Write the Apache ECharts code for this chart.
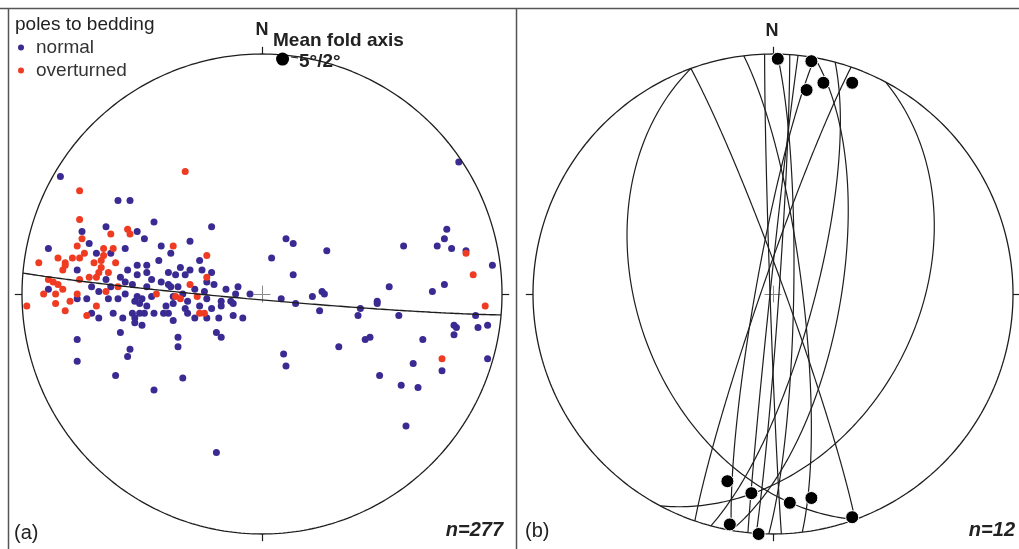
<!DOCTYPE html>
<html>
<head>
<meta charset="utf-8">
<title>Stereonets</title>
<script src="https://cdn.jsdelivr.net/npm/echarts@6/dist/echarts.min.js"></script>
<style>
  html, body { margin: 0; padding: 0; background: #fff; }
  #main { width: 1019px; height: 549px; }
</style>
</head>
<body>
<div id="main"></div>
<script>
// poles to bedding, equal-area lower hemisphere, primitive radius = 1 (east, north)
const normalPoles = [
  [-0.84,0.49],[-0.60,0.39],[-0.55,0.39],[-0.45,0.30],[-0.21,0.28],[-0.65,0.28],[-0.75,0.26],[-0.52,0.26],[-0.49,0.23],[-0.30,0.22],
  [-0.72,0.21],[-0.89,0.19],[-0.57,0.19],[-0.42,0.20],[-0.38,0.17],[-0.69,0.17],[-0.63,0.17],[-0.43,0.14],[-0.26,0.14],[-0.34,0.11],
  [-0.30,0.10],[-0.52,0.12],[-0.48,0.12],[-0.56,0.10],[-0.52,0.08],[-0.48,0.09],[-0.39,0.09],[-0.36,0.08],[-0.25,0.10],[-0.21,0.09],
  [-0.77,0.10],[-0.46,0.06],[-0.42,0.05],[-0.32,0.08],[-0.23,0.05],[-0.20,0.04],[-0.59,0.07],[-0.65,0.06],[-0.57,0.05],[-0.54,0.04],
  [-0.48,0.03],[-0.39,0.04],[-0.38,0.03],[-0.35,0.03],[-0.28,0.02],[-0.24,0.01],[-0.15,0.02],[-0.10,0.03],[-0.05,0.00],[-0.11,0.00],
  [-0.89,0.02],[-0.71,0.03],[-0.68,0.01],[-0.63,0.03],[-0.57,0.00],[-0.52,-0.01],[-0.50,-0.02],[-0.46,-0.01],[-0.37,-0.01],[-0.33,0.00],
  [-0.23,-0.02],[-0.17,-0.03],[-0.13,-0.03],[-0.12,-0.04],[-0.77,-0.02],[-0.73,-0.02],[-0.64,-0.02],[-0.60,-0.02],[-0.53,-0.03],[-0.51,-0.04],
  [-0.48,-0.05],[-0.40,-0.05],[-0.37,-0.04],[-0.31,-0.03],[-0.26,-0.05],[-0.21,-0.06],[-0.17,-0.05],[-0.71,-0.08],[-0.68,-0.10],[-0.62,-0.08],
  [-0.58,-0.10],[-0.54,-0.08],[-0.53,-0.10],[-0.51,-0.08],[-0.49,-0.08],[-0.45,-0.08],[-0.41,-0.08],[-0.39,-0.08],[-0.37,-0.11],[-0.32,-0.06],
  [-0.31,-0.08],[-0.28,-0.10],[-0.23,-0.10],[-0.18,-0.10],[-0.12,-0.09],[-0.08,-0.10],[-0.53,-0.12],[-0.50,-0.13],[-0.59,-0.16],[-0.35,-0.18],
  [-0.19,-0.16],[-0.17,-0.18],[-0.77,-0.19],[-0.77,-0.28],[-0.55,-0.23],[-0.56,-0.26],[-0.35,-0.22],[-0.61,-0.34],[-0.33,-0.35],[-0.45,-0.40],
  [0.60,-0.55],[-0.19,-0.66],
  [0.82,0.55],[0.77,0.27],[0.76,0.23],[0.10,0.23],[0.13,0.21],[0.27,0.18],[0.59,0.20],[0.73,0.20],[0.79,0.19],[0.85,0.18],
  [0.04,0.15],[0.96,0.12],[0.13,0.08],[0.53,0.03],[0.76,0.04],[0.71,0.01],[0.08,-0.02],[0.21,-0.01],[0.25,0.01],[0.26,0.00],
  [0.14,-0.04],[0.24,-0.07],[0.48,-0.03],[0.48,-0.04],[0.41,-0.06],[0.40,-0.09],[0.57,-0.09],[0.89,-0.09],[0.80,-0.13],[0.81,-0.14],
  [0.80,-0.17],[0.90,-0.14],[0.94,-0.13],[0.67,-0.19],[0.45,-0.18],[0.43,-0.19],[0.32,-0.22],[0.09,-0.25],[0.10,-0.30],[0.63,-0.29],
  [0.75,-0.32],[0.94,-0.27],[0.49,-0.34],[0.58,-0.38],[0.65,-0.39]
]
const overturnedPoles = [
  [-0.32,0.51],[-0.76,0.43],[-0.76,0.31],[-0.75,0.23],[-0.63,0.25],[-0.56,0.27],[-0.55,0.25],[-0.77,0.20],[-0.85,0.15],[-0.82,0.13],
  [-0.79,0.15],[-0.76,0.15],[-0.74,0.17],[-0.66,0.19],[-0.62,0.19],[-0.66,0.16],[-0.67,0.14],[-0.61,0.13],[-0.93,0.13],[-0.83,0.10],
  [-0.82,0.12],[-0.70,0.13],[-0.67,0.11],[-0.64,0.09],[-0.68,0.09],[-0.72,0.07],[-0.69,0.07],[-0.37,0.20],[-0.23,0.16],[-0.23,0.07],
  [-0.89,0.06],[-0.87,0.05],[-0.85,0.04],[-0.76,0.06],[-0.83,0.02],[-0.91,0.00],[-0.86,0.00],[-0.77,0.00],[-0.65,0.01],[-0.60,0.03],
  [-0.44,0.00],[-0.30,0.04],[-0.98,-0.05],[-0.86,-0.04],[-0.80,-0.03],[-0.69,-0.05],[-0.82,-0.07],[-0.73,-0.09],[-0.36,-0.01],[-0.27,-0.01],
  [-0.26,-0.08],[-0.24,-0.08],[-0.34,-0.02],
  [0.85,0.17],[0.88,0.08],[0.93,-0.05],[0.75,-0.27]
]
// mean fold axis, trend / plunge in degrees
const meanFoldAxis = [5, 2]

// (b) planes: dip direction / dip in degrees
const planeDipDir = [250, 70, 118, 83, 91, 94, 280, 100, 105, 289, 268, 276]
const planeDip = [43, 86, 40, 80, 83, 88, 84, 67, 76, 86, 89, 89]
// (b) fold hinges, projected (east, north)
const hinges = [
  [0.02,0.98],[0.16,0.97],[0.14,0.85],[0.21,0.88],[0.33,0.88],
  [-0.19,-0.78],[-0.09,-0.83],[0.07,-0.87],[0.16,-0.85],[0.33,-0.93],[-0.18,-0.96],[-0.06,-1.00]
]

const D2R = Math.PI / 180
const FONT = '"Liberation Sans", Arial, Helvetica, sans-serif'
const INK = '#1e1e1e'

// equal-area (Schmidt) lower hemisphere
function project(trend, plunge) {
  const r = Math.SQRT2 * Math.sin((90 - plunge) / 2 * D2R)
  return [r * Math.sin(trend * D2R), r * Math.cos(trend * D2R)]
}

function greatCircle(dipDir, dip) {
  const dd = dipDir * D2R
  const d = dip * D2R
  const s = [Math.sin(dd - Math.PI / 2), Math.cos(dd - Math.PI / 2), 0]
  const v = [Math.sin(dd) * Math.cos(d), Math.cos(dd) * Math.cos(d), Math.sin(d)]
  const pts = []
  for (let a = 0; a <= 180; a += 1) {
    const c = Math.cos(a * D2R)
    const sn = Math.sin(a * D2R)
    const e = c * s[0] + sn * v[0]
    const n = c * s[1] + sn * v[1]
    const dn = sn * v[2]
    const plunge = Math.asin(Math.max(-1, Math.min(1, dn))) / D2R
    const trend = Math.atan2(e, n) / D2R
    pts.push(project(trend, plunge))
  }
  return pts
}

function primitive() {
  const pts = []
  for (let a = 0; a <= 360; a += 1) {
    pts.push([Math.sin(a * D2R), Math.cos(a * D2R)])
  }
  return pts
}

function ticks() {
  const t = 1.03
  return [
    { coords: [[0, 1], [0, t]] },
    { coords: [[0, -1], [0, -t]] },
    { coords: [[1, 0], [t, 0]] },
    { coords: [[-1, 0], [-t, 0]] }
  ]
}

function cross() {
  const c = 0.035
  return [
    { coords: [[-c, 0], [c, 0]] },
    { coords: [[0, -c], [0, c]] }
  ]
}

function netSeries(idx) {
  return [
    {
      type: 'line', xAxisIndex: idx, yAxisIndex: idx, data: primitive(),
      symbol: 'none', clip: false, silent: true,
      lineStyle: { color: INK, width: 1.3 }
    },
    {
      type: 'lines', coordinateSystem: 'cartesian2d', xAxisIndex: idx, yAxisIndex: idx,
      data: ticks(), clip: false, silent: true,
      lineStyle: { color: INK, width: 1.2, opacity: 1 }
    },
    {
      type: 'lines', coordinateSystem: 'cartesian2d', xAxisIndex: idx, yAxisIndex: idx,
      data: cross(), clip: false, silent: true,
      lineStyle: { color: '#8a8a8a', width: 1, opacity: 1 }
    }
  ]
}

function text(x, y, str, font, align) {
  return {
    type: 'text', x: x, y: y, silent: true,
    style: {
      text: str, font: font, fill: '#222',
      align: align || 'left', verticalAlign: 'middle',
      textAlign: align || 'left', textVerticalAlign: 'middle'
    }
  }
}

function frameLine(x1, y1, x2, y2) {
  return {
    type: 'line', silent: true,
    shape: { x1: x1, y1: y1, x2: x2, y2: y2 },
    style: { stroke: '#555', lineWidth: 1.5 }
  }
}

const axisPt = project(meanFoldAxis[0], meanFoldAxis[1])
const girdle = greatCircle(meanFoldAxis[0] + 180, 90 - meanFoldAxis[1])
const planes = planeDipDir.map((dd, i) => ({ coords: greatCircle(dd, planeDip[i]) }))

const chart = echarts.init(document.getElementById('main'))

chart.setOption({
  animation: false,
  backgroundColor: '#fff',
  grid: [
    { left: 22, top: 54, width: 480, height: 480 },
    { left: 533, top: 54, width: 480, height: 480 }
  ],
  xAxis: [
    { gridIndex: 0, type: 'value', min: -1, max: 1, show: false },
    { gridIndex: 1, type: 'value', min: -1, max: 1, show: false }
  ],
  yAxis: [
    { gridIndex: 0, type: 'value', min: -1, max: 1, show: false },
    { gridIndex: 1, type: 'value', min: -1, max: 1, show: false }
  ],
  legend: {
    data: ['normal', 'overturned'],
    orient: 'vertical',
    left: 18,
    top: 38,
    padding: 0,
    itemGap: 4,
    itemWidth: 20,
    itemHeight: 6,
    icon: 'circle',
    selectedMode: false,
    textStyle: { fontFamily: FONT, fontSize: 19, color: '#333' }
  },
  graphic: [
    frameLine(0, 8.5, 1019, 8.5),
    frameLine(8.5, 8, 8.5, 549),
    frameLine(516.5, 8, 516.5, 549),
    text(15, 24.5, 'poles to bedding', '19px ' + FONT),
    text(262, 30.5, 'N', 'bold 18px ' + FONT, 'center'),
    text(273, 41, 'Mean fold axis', 'bold 19px ' + FONT),
    text(299, 61.5, '5°/2°', 'bold 19px ' + FONT),
    {
      type: 'line', silent: true,
      shape: { x1: 291, y1: 57, x2: 298, y2: 58 },
      style: { stroke: INK, lineWidth: 1 }
    },
    text(14, 533, '(a)', '20px ' + FONT),
    text(503, 530, 'n=277', 'italic bold 20px ' + FONT, 'right'),
    text(772, 31.5, 'N', 'bold 18px ' + FONT, 'center'),
    text(525, 531, '(b)', '20px ' + FONT),
    text(1015, 530, 'n=12', 'italic bold 20px ' + FONT, 'right')
  ],
  series: [
    ...netSeries(0),
    {
      name: 'normal', type: 'scatter', xAxisIndex: 0, yAxisIndex: 0,
      data: normalPoles, symbolSize: 7, clip: false, silent: true,
      itemStyle: { color: '#3a2b93', opacity: 1 }
    },
    {
      name: 'overturned', type: 'scatter', xAxisIndex: 0, yAxisIndex: 0,
      data: overturnedPoles, symbolSize: 7, clip: false, silent: true,
      itemStyle: { color: '#ef3b22', opacity: 1 }
    },
    {
      type: 'line', xAxisIndex: 0, yAxisIndex: 0, data: girdle,
      symbol: 'none', clip: false, silent: true, z: 3,
      lineStyle: { color: INK, width: 1.4 }
    },
    {
      type: 'scatter', xAxisIndex: 0, yAxisIndex: 0, data: [axisPt],
      symbolSize: 13, clip: false, silent: true, z: 4,
      itemStyle: { color: '#000', opacity: 1 }
    },
    ...netSeries(1),
    {
      type: 'lines', coordinateSystem: 'cartesian2d', xAxisIndex: 1, yAxisIndex: 1,
      polyline: true, data: planes, clip: false, silent: true,
      lineStyle: { color: INK, width: 1.2, opacity: 1 }
    },
    {
      type: 'scatter', xAxisIndex: 1, yAxisIndex: 1, data: hinges,
      symbolSize: 13, clip: false, silent: true, z: 4,
      itemStyle: { color: '#000', opacity: 1, borderColor: '#fff', borderWidth: 1 }
    }
  ]
})
</script>
</body>
</html>
